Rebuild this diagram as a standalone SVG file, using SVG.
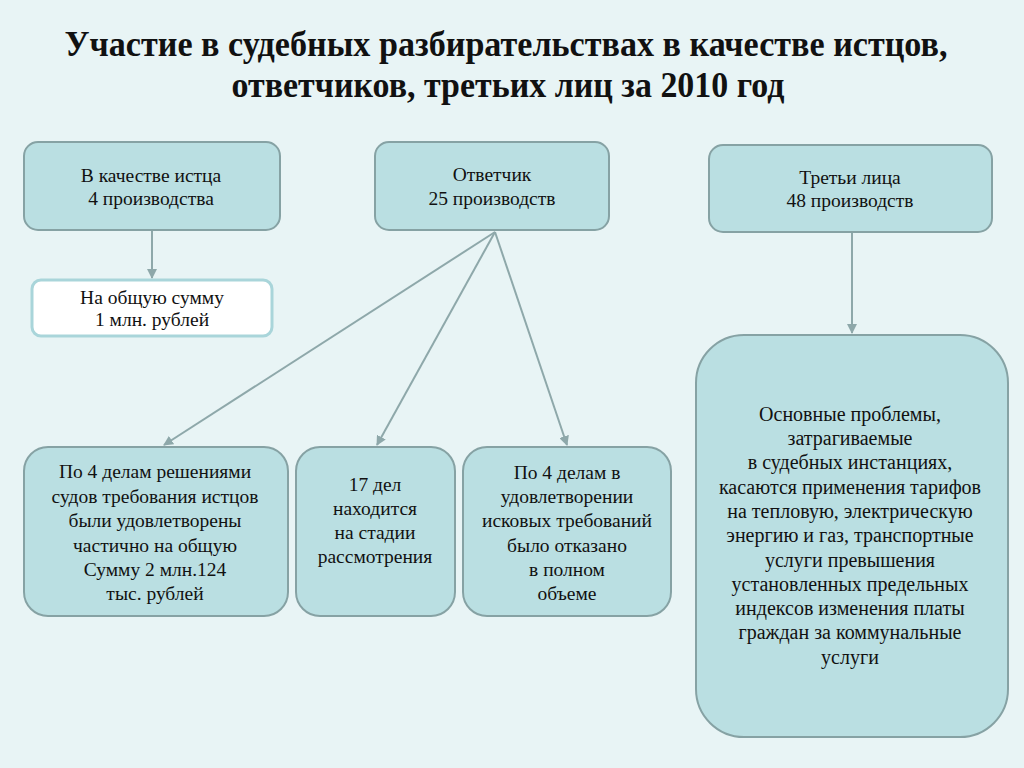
<svg xmlns="http://www.w3.org/2000/svg" width="1024" height="768" viewBox="0 0 1024 768">
<defs>
<style>
.box{fill:#badfe2;stroke:#86a2a4;stroke-width:2}
.wbox{fill:#ffffff;stroke:#a9d5da;stroke-width:3}
.t{font-family:"Liberation Serif","Times New Roman",serif;font-size:19.5px;fill:#111;text-anchor:middle}
.tb{font-family:"Liberation Serif","Times New Roman",serif;font-size:20px;fill:#111;text-anchor:middle}
.title{font-family:"Liberation Serif","Times New Roman",serif;font-size:36px;font-weight:bold;fill:#111;text-anchor:middle}
.con{stroke:#8ea8aa;stroke-width:2;fill:none}
</style>
<marker id="ah" markerWidth="10" markerHeight="10" refX="9" refY="5" orient="auto" markerUnits="userSpaceOnUse">
<path d="M0,0 L10,5 L0,10 z" fill="#8ea8aa"/>
</marker>
</defs>
<rect width="1024" height="768" fill="#e8f4f5"/>
<g id="title">
<text class="title" x="506" y="56" textLength="883" lengthAdjust="spacingAndGlyphs">Участие в судебных разбирательствах в качестве истцов,</text>
<text class="title" x="508" y="97" textLength="553" lengthAdjust="spacingAndGlyphs">ответчиков, третьих лиц за 2010 год</text>
</g>
<g id="connectors">
<line class="con" x1="152" y1="231" x2="152" y2="278" marker-end="url(#ah)"/>
<line class="con" x1="852" y1="233" x2="852" y2="333" marker-end="url(#ah)"/>
<line class="con" x1="495" y1="232" x2="164" y2="445" marker-end="url(#ah)"/>
<line class="con" x1="495" y1="232" x2="377" y2="445" marker-end="url(#ah)"/>
<line class="con" x1="495" y1="232" x2="567" y2="445" marker-end="url(#ah)"/>
</g>
<g id="node-istec">
<rect class="box" x="24" y="142" width="256" height="88" rx="14"/>
<text class="t" x="151" y="182">В качестве истца</text>
<text class="t" x="151" y="205"> 4 производства</text>
</g>
<g id="node-summa">
<rect class="wbox" x="32" y="280" width="240" height="56" rx="9"/>
<text class="t" x="152" y="304">На общую сумму</text>
<text class="t" x="152" y="326"> 1 млн. рублей</text>
</g>
<g id="node-otvetchik">
<rect class="box" x="375" y="142" width="234" height="88" rx="14"/>
<text class="t" x="492" y="181">Ответчик</text>
<text class="t" x="492" y="205"> 25 производств</text>
</g>
<g id="node-tretyi">
<rect class="box" x="709" y="145" width="283" height="87" rx="14"/>
<text class="t" x="850" y="184">Третьи лица</text>
<text class="t" x="850" y="207"> 48 производств</text>
</g>
<g id="node-udovl">
<rect class="box" x="24" y="447" width="264" height="169" rx="24"/>
<text class="t" x="155" y="478">По 4 делам решениями</text>
<text class="t" x="155" y="503">судов требования истцов</text>
<text class="t" x="155" y="527">были удовлетворены</text>
<text class="t" x="155" y="552">частично на общую</text>
<text class="t" x="155" y="576">Сумму 2 млн.124</text>
<text class="t" x="155" y="600">тыс. рублей</text>
</g>
<g id="node-17">
<rect class="box" x="296" y="447" width="159" height="169" rx="24"/>
<text class="t" x="375" y="491">17  дел</text>
<text class="t" x="375" y="515">находится</text>
<text class="t" x="375" y="539">на стадии</text>
<text class="t" x="375" y="563">рассмотрения</text>
</g>
<g id="node-otkaz">
<rect class="box" x="463" y="447" width="208" height="169" rx="24"/>
<text class="t" x="567" y="479">По 4 делам в</text>
<text class="t" x="567" y="503">удовлетворении</text>
<text class="t" x="567" y="527">исковых требований</text>
<text class="t" x="567" y="552">было отказано</text>
<text class="t" x="567" y="576"> в полном</text>
<text class="t" x="567" y="600"> объеме</text>
</g>
<g id="node-problemy">
<rect class="box" x="696" y="335" width="312" height="402" rx="48"/>
<text class="tb" x="850" y="421">Основные проблемы,</text>
<text class="tb" x="850" y="445">затрагиваемые</text>
<text class="tb" x="850" y="469">в судебных инстанциях,</text>
<text class="tb" x="850" y="494">касаются применения тарифов</text>
<text class="tb" x="850" y="518">на тепловую, электрическую</text>
<text class="tb" x="850" y="542">энергию и газ, транспортные</text>
<text class="tb" x="850" y="567">услуги превышения</text>
<text class="tb" x="850" y="591">установленных предельных</text>
<text class="tb" x="850" y="615">индексов изменения платы</text>
<text class="tb" x="850" y="639">граждан за коммунальные</text>
<text class="tb" x="850" y="664">услуги</text>
</g>
</svg>
